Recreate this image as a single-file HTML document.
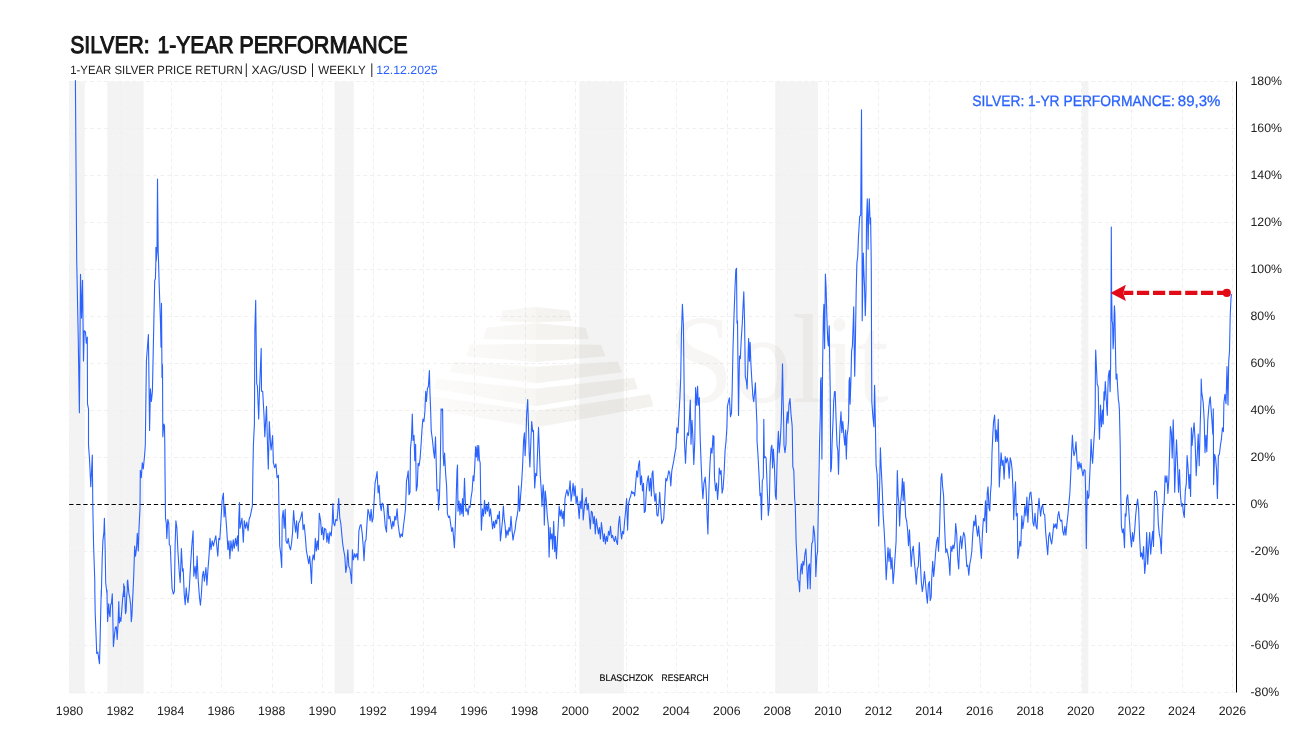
<!DOCTYPE html>
<html><head><meta charset="utf-8"><title>Silver: 1-Year Performance</title>
<style>html,body{margin:0;padding:0;background:#fff;width:1307px;height:734px;overflow:hidden;font-family:"Liberation Sans",sans-serif}</style>
</head><body>
<svg width="1307" height="734" viewBox="0 0 1307 734" text-rendering="geometricPrecision" style="display:block;position:absolute;left:0;top:0;font-family:'Liberation Sans',sans-serif">
<rect width="1307" height="734" fill="#fff"/>
<rect x="69.2" y="81.5" width="15.6" height="612.0" fill="#f3f3f3"/>
<rect x="107.2" y="81.5" width="36.4" height="612.0" fill="#f3f3f3"/>
<rect x="334.5" y="81.5" width="19.2" height="612.0" fill="#f3f3f3"/>
<rect x="579.3" y="81.5" width="44.5" height="612.0" fill="#f3f3f3"/>
<rect x="775.2" y="81.5" width="42.8" height="612.0" fill="#f3f3f3"/>
<rect x="1082.1" y="81.5" width="6.3" height="612.0" fill="#f3f3f3"/>
<g stroke="#f0f0f0" stroke-width="1" stroke-dasharray="4 3" fill="none">
<line x1="69.5" y1="81.5" x2="69.5" y2="692.5"/>
<line x1="120.5" y1="81.5" x2="120.5" y2="692.5"/>
<line x1="171.5" y1="81.5" x2="171.5" y2="692.5"/>
<line x1="221.5" y1="81.5" x2="221.5" y2="692.5"/>
<line x1="272.5" y1="81.5" x2="272.5" y2="692.5"/>
<line x1="322.5" y1="81.5" x2="322.5" y2="692.5"/>
<line x1="373.5" y1="81.5" x2="373.5" y2="692.5"/>
<line x1="423.5" y1="81.5" x2="423.5" y2="692.5"/>
<line x1="474.5" y1="81.5" x2="474.5" y2="692.5"/>
<line x1="525.5" y1="81.5" x2="525.5" y2="692.5"/>
<line x1="575.5" y1="81.5" x2="575.5" y2="692.5"/>
<line x1="626.5" y1="81.5" x2="626.5" y2="692.5"/>
<line x1="676.5" y1="81.5" x2="676.5" y2="692.5"/>
<line x1="727.5" y1="81.5" x2="727.5" y2="692.5"/>
<line x1="777.5" y1="81.5" x2="777.5" y2="692.5"/>
<line x1="828.5" y1="81.5" x2="828.5" y2="692.5"/>
<line x1="878.5" y1="81.5" x2="878.5" y2="692.5"/>
<line x1="929.5" y1="81.5" x2="929.5" y2="692.5"/>
<line x1="980.5" y1="81.5" x2="980.5" y2="692.5"/>
<line x1="1030.5" y1="81.5" x2="1030.5" y2="692.5"/>
<line x1="1081.5" y1="81.5" x2="1081.5" y2="692.5"/>
<line x1="1131.5" y1="81.5" x2="1131.5" y2="692.5"/>
<line x1="1182.5" y1="81.5" x2="1182.5" y2="692.5"/>
<line x1="1232.5" y1="81.5" x2="1232.5" y2="692.5"/>
<line x1="69.2" y1="692.5" x2="1236.5" y2="692.5"/>
<line x1="69.2" y1="645.5" x2="1236.5" y2="645.5"/>
<line x1="69.2" y1="598.5" x2="1236.5" y2="598.5"/>
<line x1="69.2" y1="551.5" x2="1236.5" y2="551.5"/>
<line x1="69.2" y1="457.5" x2="1236.5" y2="457.5"/>
<line x1="69.2" y1="410.5" x2="1236.5" y2="410.5"/>
<line x1="69.2" y1="363.5" x2="1236.5" y2="363.5"/>
<line x1="69.2" y1="316.5" x2="1236.5" y2="316.5"/>
<line x1="69.2" y1="269.5" x2="1236.5" y2="269.5"/>
<line x1="69.2" y1="222.5" x2="1236.5" y2="222.5"/>
<line x1="69.2" y1="175.5" x2="1236.5" y2="175.5"/>
<line x1="69.2" y1="128.5" x2="1236.5" y2="128.5"/>
<line x1="69.2" y1="81.5" x2="1236.5" y2="81.5"/>
</g>
<defs><linearGradient id="lf" gradientUnits="userSpaceOnUse" x1="425" y1="0" x2="536" y2="0"><stop offset="0" stop-color="rgb(135,125,85)" stop-opacity="0.028"/><stop offset="1" stop-color="rgb(135,125,85)" stop-opacity="0.068"/></linearGradient><linearGradient id="rf" gradientUnits="userSpaceOnUse" x1="536" y1="0" x2="655" y2="0"><stop offset="0" stop-color="rgb(135,125,85)" stop-opacity="0.09"/><stop offset="1" stop-color="rgb(135,125,85)" stop-opacity="0.105"/></linearGradient></defs>
<g stroke="none">
<polygon fill="url(#lf)" points="502.6,310.6 535.7,307.1 535.7,322.6 499.5,321.1"/>
<polygon fill="url(#rf)" points="535.7,307.1 568.9,310.6 572.0,321.1 535.7,322.6"/>
<polygon fill="url(#lf)" points="486.1,327.7 535.7,323.0 535.7,340.1 483.3,339.1"/>
<polygon fill="url(#rf)" points="535.7,323.0 585.4,327.7 589.1,339.1 535.7,340.1"/>
<polygon fill="url(#lf)" points="469.5,344.7 535.7,343.7 535.7,362.1 466.8,356.2"/>
<polygon fill="url(#rf)" points="535.7,343.7 601.0,344.7 605.6,356.2 535.7,362.1"/>
<polygon fill="url(#lf)" points="453.0,361.6 535.7,366.7 535.7,383.3 450.2,372.2"/>
<polygon fill="url(#rf)" points="535.7,366.7 617.6,361.6 622.2,372.2 535.7,383.3"/>
<polygon fill="url(#lf)" points="436.4,378.7 535.7,388.8 535.7,406.3 433.7,388.8"/>
<polygon fill="url(#rf)" points="535.7,388.8 634.1,377.8 637.8,388.8 535.7,406.3"/>
<polygon fill="url(#lf)" points="421.7,395.2 535.7,410.9 535.7,427.4 419.0,407.2"/>
<polygon fill="url(#rf)" points="535.7,410.9 649.8,394.3 653.4,406.3 535.7,427.4"/>
</g>
<text x="668.8" y="401.5" font-family="'Liberation Serif',serif" font-size="127" fill="rgba(135,125,85,0.065)" textLength="220" lengthAdjust="spacingAndGlyphs">Solit</text>
<line x1="69.2" y1="504.5" x2="1234.8" y2="504.5" stroke="#000" stroke-width="1.2" stroke-dasharray="4.3 2.75"/>
<path d="M75.4,80.6 L75.9,150.7 L76.7,260.1 L78.2,335.7 L79.4,412.8 L80.5,274.4 L81.5,318.1 L82.5,280.2 L83.5,361.0 L84.2,330.7 L85.5,332.0 L86.3,343.3 L87.3,337.0 L87.5,403.9 L88.5,409.0 L88.5,445.1 L89.5,458.9 L90.8,486.7 L92.3,455.1 L92.8,505.6 L93.6,546.0 L94.8,581.3 L94.8,590.0 L95.2,613.0 L96.1,635.9 L96.7,653.5 L97.8,652.0 L99.5,663.8 L100.1,640.5 L100.7,613.0 L101.3,590.0 L101.3,596.5 L102.2,558.6 L102.9,540.9 L103.9,532.1 L104.4,518.2 L105.2,551.0 L105.7,582.6 L107.0,594.0 L107.0,590.0 L107.1,599.2 L107.6,621.4 L108.7,603.8 L109.3,613.0 L110.0,616.8 L110.7,604.5 L111.4,603.8 L112.3,593.8 L112.8,616.0 L113.4,646.6 L114.5,634.4 L115.4,627.5 L116.3,626.7 L117.2,639.4 L118.0,625.2 L118.8,601.5 L119.4,622.9 L120.0,617.5 L120.9,621.4 L121.8,609.9 L122.7,597.7 L123.7,590.0 L123.7,583.9 L123.9,596.5 L124.6,586.4 L124.6,590.0 L124.9,596.9 L125.5,613.7 L126.1,611.4 L126.7,596.1 L127.3,590.0 L127.3,581.3 L127.7,580.1 L128.9,593.8 L129.8,597.7 L130.7,605.3 L131.3,621.7 L131.9,616.0 L132.5,602.2 L133.1,590.0 L133.7,576.3 L134.7,546.0 L135.5,556.1 L136.5,548.5 L137.3,533.4 L138.3,551.0 L139.0,528.3 L140.0,508.1 L140.3,470.2 L141.3,477.8 L142.3,462.7 L143.3,469.0 L144.6,455.1 L145.3,445.0 L146.4,361.0 L148.4,334.5 L149.6,430.4 L150.4,388.8 L151.4,401.4 L152.4,391.3 L153.4,343.3 L154.7,280.2 L155.4,278.9 L155.9,260.0 L155.9,247.2 L156.2,261.3 L157.0,251.7 L157.5,179.0 L158.2,251.7 L158.5,260.1 L159.2,285.2 L160.5,323.1 L161.0,347.1 L161.5,303.4 L162.0,377.4 L162.5,364.8 L162.8,436.7 L163.8,424.1 L164.5,425.4 L164.8,445.1 L165.0,470.2 L165.5,518.2 L166.3,523.3 L166.8,538.4 L167.8,519.5 L168.8,523.3 L169.3,544.7 L170.3,546.0 L171.3,571.2 L172.1,588.9 L173.4,594.0 L174.4,591.4 L175.1,546.0 L175.9,520.7 L176.9,528.3 L177.9,551.0 L179.2,571.2 L180.2,582.6 L181.4,548.5 L182.5,571.2 L183.2,568.7 L184.2,594.0 L185.2,604.6 L186.2,587.7 L187.0,596.5 L188.0,602.8 L189.3,588.9 L190.5,566.2 L191.8,546.0 L193.1,530.8 L193.8,576.3 L195.1,566.2 L196.1,578.8 L197.1,556.1 L198.1,578.8 L199.4,596.5 L200.4,605.3 L201.4,594.0 L202.4,576.3 L203.4,571.2 L204.4,581.3 L205.9,567.5 L206.9,585.1 L208.0,568.7 L209.0,556.1 L210.0,538.4 L211.0,549.8 L212.2,540.9 L213.5,546.0 L214.5,540.9 L215.8,535.9 L216.8,546.0 L217.8,556.1 L218.8,538.4 L219.8,539.7 L221.1,518.2 L222.1,500.5 L223.4,493.0 L224.1,517.0 L225.1,505.6 L225.9,518.2 L226.9,532.1 L227.9,549.8 L228.9,540.9 L229.9,558.6 L230.9,540.9 L232.2,551.0 L233.2,539.7 L234.2,548.5 L235.5,538.4 L236.5,546.0 L237.5,535.9 L238.3,551.0 L238.8,518.2 L239.5,502.6 L240.0,528.3 L241.0,523.3 L242.0,518.2 L243.3,542.2 L244.3,520.7 L245.6,528.3 L246.8,522.0 L248.1,530.8 L249.1,519.5 L250.4,515.7 L251.4,510.6 L252.4,505.6 L252.9,470.2 L253.4,445.0 L254.4,424.1 L254.9,329.4 L255.7,300.4 L256.7,383.7 L257.4,386.2 L258.7,419.1 L259.5,390.0 L261.2,348.4 L261.5,391.3 L262.7,391.3 L264.0,415.3 L264.8,436.7 L266.5,406.4 L267.5,445.1 L268.3,469.0 L269.3,421.6 L270.6,445.1 L271.1,450.0 L272.6,435.5 L273.4,462.7 L274.6,467.7 L275.9,463.9 L277.1,477.8 L278.4,475.3 L278.9,505.6 L279.7,546.0 L280.7,553.6 L281.7,567.5 L282.2,518.2 L283.2,510.6 L284.2,528.3 L285.2,509.4 L286.0,540.9 L287.2,543.5 L288.2,538.4 L289.3,546.0 L290.5,549.8 L291.5,543.5 L292.5,533.4 L293.6,510.6 L294.6,523.3 L295.6,532.1 L296.6,520.7 L297.6,538.4 L298.6,523.3 L299.9,520.7 L300.9,517.0 L302.1,511.9 L303.1,529.6 L304.2,524.5 L305.4,537.2 L306.4,551.0 L307.4,556.1 L308.7,563.7 L309.7,556.1 L310.5,566.2 L311.5,583.4 L312.2,561.1 L313.2,554.8 L314.3,559.9 L315.3,538.4 L316.3,551.0 L317.3,540.9 L318.3,549.8 L319.3,513.2 L320.6,520.7 L321.6,534.6 L322.6,527.1 L323.6,539.7 L324.6,528.3 L325.9,529.6 L326.9,542.2 L327.9,533.4 L328.9,543.5 L329.9,532.1 L331.2,535.9 L332.2,523.3 L332.9,503.6 L333.7,523.3 L334.7,525.8 L335.7,519.5 L337.0,520.7 L338.0,509.4 L338.7,498.5 L339.8,518.2 L340.8,523.3 L341.8,534.6 L342.8,544.7 L343.8,551.0 L344.8,556.1 L345.8,572.5 L346.8,566.2 L347.8,549.8 L348.8,566.2 L349.9,568.7 L350.9,576.3 L351.6,583.4 L352.4,549.8 L353.4,559.9 L354.7,553.6 L355.7,557.4 L356.9,553.6 L357.9,559.9 L358.9,530.8 L360.0,525.8 L361.0,524.5 L362.2,533.4 L363.2,546.0 L364.0,560.6 L365.0,542.2 L366.0,539.7 L367.0,523.3 L368.0,509.4 L369.0,513.2 L370.1,520.7 L371.1,509.4 L372.1,522.0 L373.1,518.2 L374.1,500.5 L375.1,482.9 L376.1,477.8 L377.1,471.5 L378.1,493.0 L379.1,485.4 L380.2,504.3 L381.2,510.6 L382.2,503.1 L383.2,504.3 L384.2,513.2 L385.2,525.8 L386.5,532.1 L387.5,505.6 L388.0,504.9 L388.8,518.8 L389.8,516.2 L390.8,522.6 L391.8,528.9 L392.8,521.3 L393.8,526.3 L394.8,516.2 L395.9,520.0 L397.1,508.7 L398.1,523.8 L399.1,531.4 L400.1,537.7 L401.2,533.9 L402.4,536.4 L403.4,526.3 L404.4,518.8 L405.5,508.7 L406.5,480.9 L407.5,475.8 L408.2,470.8 L409.0,494.8 L410.0,492.3 L410.5,448.1 L411.5,438.0 L412.3,414.0 L413.0,440.5 L414.0,435.4 L414.8,460.7 L415.6,444.3 L416.3,491.0 L417.3,485.9 L418.1,463.2 L419.1,465.7 L420.1,458.2 L421.1,444.3 L422.1,427.9 L422.9,419.0 L423.9,421.6 L424.9,411.5 L425.7,391.3 L426.4,401.4 L427.4,388.8 L428.4,386.2 L429.4,370.6 L429.9,391.3 L430.7,411.5 L431.2,430.4 L432.5,440.5 L433.5,450.6 L434.5,458.2 L435.5,436.7 L436.3,465.7 L437.0,491.0 L438.0,489.7 L438.5,509.9 L439.5,496.0 L440.3,465.7 L441.1,408.9 L441.8,410.2 L442.6,408.9 L443.1,453.1 L443.8,465.7 L444.6,453.1 L445.6,473.3 L446.6,485.9 L447.4,513.7 L448.6,517.5 L449.6,516.2 L450.6,523.8 L451.7,531.4 L452.7,527.6 L453.7,539.0 L454.4,547.8 L455.4,523.8 L456.2,498.6 L457.0,470.8 L457.5,465.0 L458.0,511.2 L459.0,501.1 L460.0,515.0 L460.7,503.6 L461.8,513.7 L462.5,498.6 L463.3,516.2 L464.0,493.5 L464.5,478.4 L465.3,501.1 L466.0,511.2 L467.1,508.7 L468.1,515.0 L469.1,506.1 L470.1,507.4 L471.1,497.3 L472.1,491.0 L473.1,475.8 L473.9,480.9 L474.9,463.2 L475.6,446.8 L476.4,456.9 L477.2,445.5 L477.9,460.7 L478.7,445.5 L479.4,459.4 L480.2,463.2 L480.7,498.6 L481.4,530.1 L482.5,508.7 L483.5,516.2 L484.5,500.3 L485.5,513.7 L486.5,504.9 L487.5,511.2 L488.5,502.4 L489.5,516.2 L490.5,508.7 L491.5,518.8 L492.6,528.9 L493.6,521.3 L494.6,527.6 L495.6,520.0 L496.6,523.8 L497.6,515.0 L498.6,518.8 L499.4,511.2 L500.4,541.0 L501.4,531.4 L502.4,521.3 L503.4,506.1 L504.2,518.8 L505.2,526.3 L505.9,537.7 L507.0,530.1 L508.0,535.2 L509.0,527.6 L510.0,531.4 L511.0,516.2 L512.0,530.1 L513.0,540.2 L514.0,533.9 L515.0,530.1 L516.0,521.3 L517.1,516.2 L518.1,508.7 L518.6,485.9 L519.6,511.2 L520.6,496.0 L521.6,483.4 L522.6,465.7 L523.6,440.5 L524.4,432.9 L525.1,455.6 L525.9,440.5 L526.6,415.2 L527.7,399.6 L528.4,422.8 L529.2,453.1 L529.9,467.0 L530.9,440.5 L531.7,421.6 L532.7,431.7 L533.5,430.4 L534.0,463.2 L534.7,488.0 L535.7,473.3 L536.7,475.8 L537.8,445.5 L538.5,427.4 L539.3,448.1 L540.3,475.8 L541.3,491.0 L542.0,506.1 L543.1,484.7 L543.8,493.5 L544.3,525.1 L545.3,491.0 L546.3,501.1 L547.3,516.2 L548.4,526.3 L549.1,557.1 L550.1,527.6 L550.9,539.0 L551.9,533.9 L552.7,549.1 L553.7,521.3 L554.7,551.6 L555.4,536.4 L556.4,558.7 L557.4,541.5 L558.2,526.3 L559.2,506.1 L560.2,516.2 L561.2,509.9 L562.2,518.8 L563.3,511.2 L564.0,526.3 L565.0,498.6 L566.0,493.5 L567.0,489.7 L568.1,496.0 L569.1,491.0 L570.1,480.9 L571.1,501.1 L572.1,493.5 L573.1,483.4 L574.1,496.0 L575.1,485.9 L576.1,503.6 L577.1,496.0 L578.2,506.1 L579.2,518.8 L580.2,501.1 L581.2,508.7 L582.2,488.5 L583.2,520.0 L584.2,508.7 L585.2,501.1 L586.2,497.3 L587.2,509.9 L588.3,503.6 L589.3,516.2 L590.3,528.9 L591.3,511.2 L592.3,512.5 L593.3,523.8 L594.3,516.2 L595.3,533.9 L596.3,518.8 L597.3,526.3 L598.4,533.9 L599.4,527.6 L600.4,539.0 L601.4,522.6 L602.4,531.4 L603.4,541.5 L604.4,533.9 L605.4,544.0 L606.4,536.4 L607.4,541.5 L608.5,531.4 L609.5,535.2 L610.5,526.3 L611.5,537.7 L612.5,535.2 L613.5,539.0 L614.5,541.5 L615.5,536.4 L616.5,541.5 L617.5,544.5 L618.6,523.8 L619.6,516.2 L620.6,530.1 L621.6,539.0 L622.6,531.4 L623.6,533.9 L624.6,521.3 L625.6,511.2 L626.6,498.6 L627.6,530.1 L628.6,503.6 L629.7,498.6 L630.7,496.0 L631.7,491.0 L632.7,493.5 L633.7,492.3 L634.7,496.0 L635.7,483.4 L636.7,470.8 L637.7,477.1 L638.5,465.7 L639.5,460.7 L640.5,484.7 L641.5,475.8 L642.5,491.0 L643.5,483.4 L644.3,512.5 L645.3,511.2 L646.3,491.0 L647.3,480.9 L648.3,475.8 L649.4,491.0 L650.4,478.4 L651.4,496.0 L652.1,473.3 L652.9,470.8 L653.9,491.0 L654.9,501.1 L655.9,493.5 L656.9,515.0 L657.9,516.2 L658.9,506.1 L659.7,492.3 L660.7,508.7 L661.7,523.8 L662.7,521.3 L663.7,518.8 L664.8,498.6 L665.8,478.4 L666.8,480.9 L667.8,475.8 L668.8,470.8 L669.8,473.3 L670.8,485.9 L671.8,470.8 L672.8,465.7 L673.8,460.7 L674.9,453.1 L675.9,448.1 L676.9,427.9 L677.9,432.9 L678.9,415.2 L679.9,397.6 L680.7,378.7 L681.4,335.7 L682.4,304.2 L683.4,325.6 L683.9,366.0 L684.4,411.5 L684.4,440.5 L685.5,463.2 L686.5,440.5 L687.5,432.9 L688.5,435.4 L689.5,417.8 L690.3,400.1 L691.0,444.3 L692.0,420.3 L692.8,435.4 L693.8,464.5 L694.8,440.5 L695.6,387.5 L696.6,405.2 L697.6,386.2 L698.3,405.2 L699.3,397.6 L700.1,435.4 L701.1,463.2 L702.1,485.9 L702.9,498.6 L703.9,483.4 L705.2,477.1 L706.2,491.0 L706.9,511.2 L707.9,533.9 L708.9,491.0 L710.0,463.2 L711.0,448.1 L712.0,453.1 L713.0,435.4 L714.0,450.6 L714.0,447.8 L714.0,436.4 L714.0,450.3 L714.5,478.1 L715.6,490.7 L716.6,483.1 L717.6,499.5 L718.6,484.4 L719.3,468.0 L720.4,474.3 L721.1,470.5 L722.1,493.2 L723.1,488.2 L724.1,473.0 L725.1,450.3 L725.9,442.7 L726.9,427.6 L727.4,406.6 L728.4,401.6 L729.4,397.8 L730.5,416.7 L731.5,413.0 L732.2,389.0 L733.0,348.6 L734.0,315.7 L735.0,288.0 L735.8,270.3 L736.5,268.3 L737.0,323.3 L737.5,320.8 L738.5,415.5 L739.5,356.1 L740.3,358.7 L741.3,338.5 L742.3,323.3 L743.1,305.6 L743.8,291.8 L744.6,323.3 L745.3,376.3 L746.4,381.4 L747.1,389.0 L747.9,363.7 L748.6,338.5 L749.4,361.2 L750.1,342.3 L750.9,363.7 L751.9,381.4 L752.9,396.5 L753.7,401.6 L754.7,391.5 L755.4,382.7 L756.2,406.6 L757.0,425.1 L757.0,440.2 L758.0,455.3 L759.0,474.3 L760.0,495.7 L760.7,493.2 L761.5,519.7 L762.3,480.6 L763.3,478.1 L763.8,419.3 L764.3,457.9 L765.0,456.6 L766.1,457.9 L767.1,485.6 L768.3,515.4 L769.3,505.8 L770.1,465.4 L771.1,447.8 L771.9,445.2 L772.6,468.0 L773.4,449.0 L774.4,465.4 L775.4,495.7 L776.2,499.5 L776.9,468.0 L777.7,445.2 L778.4,431.4 L779.2,452.8 L780.2,441.5 L781.2,422.5 L781.7,404.1 L782.5,363.7 L783.2,401.6 L783.7,425.1 L784.0,445.2 L785.0,452.8 L786.0,444.0 L786.5,421.8 L787.3,411.7 L788.0,423.1 L789.0,404.1 L790.0,398.6 L791.0,414.2 L792.1,425.1 L792.3,430.1 L792.8,466.7 L793.8,470.5 L794.6,498.3 L795.3,505.8 L796.1,541.2 L797.1,561.4 L797.9,580.3 L798.9,581.6 L799.6,591.7 L800.4,571.5 L801.4,563.9 L802.2,574.0 L802.9,561.4 L803.9,565.2 L804.9,553.8 L805.9,548.8 L807.0,571.5 L807.7,588.7 L808.5,566.4 L809.5,563.9 L810.2,588.7 L811.0,561.4 L811.8,543.7 L812.8,541.2 L813.5,526.0 L814.5,533.6 L815.3,546.2 L815.8,576.5 L816.8,556.3 L817.6,551.3 L818.1,521.0 L818.8,485.6 L819.6,440.2 L820.3,414.2 L820.6,381.4 L821.1,377.6 L821.6,416.7 L821.9,459.1 L822.6,366.2 L823.4,315.7 L823.9,304.4 L824.6,348.6 L825.4,274.1 L826.1,288.0 L826.9,318.3 L827.7,339.7 L828.4,346.0 L829.2,325.8 L829.7,361.2 L830.2,389.0 L830.4,416.7 L830.7,471.8 L831.4,468.0 L832.2,440.2 L833.2,416.7 L833.7,401.6 L834.5,391.5 L835.2,391.5 L836.0,416.7 L837.0,445.2 L837.8,450.3 L838.5,474.3 L839.3,445.2 L840.0,427.6 L841.0,411.7 L841.8,432.6 L842.8,421.3 L843.8,435.1 L844.8,445.2 L845.6,430.1 L846.3,459.1 L847.1,435.1 L847.9,430.1 L848.6,420.0 L849.1,381.4 L849.6,377.6 L850.1,404.1 L850.9,381.4 L851.6,351.1 L852.4,346.0 L853.2,323.3 L853.7,306.9 L854.2,346.0 L854.7,376.3 L855.4,341.0 L856.2,290.5 L856.9,262.7 L857.7,256.8 L858.5,236.6 L859.7,216.4 L860.7,215.1 L861.5,109.8 L862.0,226.5 L862.2,320.8 L863.3,253.0 L863.8,270.3 L864.5,285.4 L865.3,315.7 L866.0,290.5 L866.5,221.4 L867.3,198.7 L868.1,249.2 L868.6,216.4 L869.3,198.7 L870.1,224.0 L870.6,217.7 L871.1,251.7 L871.3,270.3 L871.6,366.2 L871.8,401.6 L872.9,416.7 L873.9,426.8 L874.6,385.2 L875.4,425.1 L876.1,465.4 L877.1,474.3 L877.9,495.7 L878.7,526.0 L879.7,483.1 L880.4,447.8 L881.2,468.0 L882.2,488.2 L883.2,515.9 L884.2,531.1 L885.2,551.3 L886.2,579.6 L887.2,561.4 L888.0,547.5 L889.0,561.4 L890.0,548.8 L891.0,569.0 L892.0,557.6 L893.1,583.6 L894.1,571.5 L895.1,556.3 L896.1,541.2 L896.8,503.3 L897.3,470.5 L898.1,495.7 L898.9,503.3 L899.6,526.0 L900.6,503.3 L901.6,493.2 L902.4,478.6 L903.2,500.8 L903.9,481.9 L904.9,500.8 L905.7,517.2 L906.7,521.0 L907.7,531.1 L908.5,545.7 L909.5,529.8 L910.2,546.2 L911.2,566.4 L912.2,551.3 L913.3,546.2 L914.3,561.4 L915.3,571.5 L916.3,584.1 L917.3,569.0 L918.3,566.4 L919.3,542.5 L920.3,561.4 L921.3,581.6 L922.3,591.7 L923.4,584.1 L924.4,571.5 L925.4,581.6 L926.4,594.2 L927.4,603.1 L928.4,584.1 L929.4,581.6 L930.2,600.5 L931.2,596.7 L931.7,579.1 L932.7,561.4 L933.7,576.5 L934.7,565.2 L935.7,551.3 L936.7,541.2 L937.7,537.4 L938.5,551.3 L939.5,531.1 L940.3,503.3 L941.0,478.1 L941.8,473.5 L942.5,485.6 L943.6,495.7 L944.3,518.5 L945.1,538.7 L945.8,552.6 L946.8,548.8 L947.8,553.8 L948.9,560.1 L949.9,575.3 L950.9,546.2 L951.9,551.3 L952.9,545.0 L953.9,548.8 L954.9,541.2 L955.7,523.5 L956.7,533.6 L957.7,557.6 L958.7,569.0 L959.7,543.7 L960.7,536.1 L961.7,548.8 L962.7,538.7 L963.7,532.4 L964.8,536.1 L965.8,551.3 L966.8,566.4 L967.8,565.2 L968.8,575.3 L969.8,563.9 L970.8,558.9 L971.8,551.3 L972.8,533.6 L973.8,521.0 L974.9,526.0 L975.6,515.4 L976.6,528.6 L977.6,536.1 L978.6,526.0 L979.7,538.7 L980.7,551.3 L981.4,558.4 L982.4,533.6 L983.4,518.5 L984.5,521.0 L985.5,500.8 L986.5,532.4 L987.2,493.2 L988.0,486.9 L989.0,508.4 L989.8,510.9 L990.5,493.2 L991.3,483.1 L992.0,452.8 L992.8,435.1 L993.5,422.5 L994.6,415.0 L995.6,441.5 L996.3,430.1 L997.3,441.5 L998.3,419.3 L999.3,486.9 L1000.4,465.4 L1001.1,452.8 L1002.1,465.4 L1003.1,460.4 L1004.1,479.3 L1005.2,456.6 L1006.2,462.9 L1007.2,457.9 L1008.2,462.9 L1009.2,478.1 L1010.2,457.9 L1011.2,461.7 L1012.2,470.5 L1013.2,495.7 L1013.7,519.7 L1014.8,493.2 L1015.5,481.9 L1016.3,515.9 L1017.3,513.4 L1017.8,558.4 L1018.8,551.3 L1019.8,541.2 L1020.8,546.2 L1021.8,515.9 L1022.8,528.6 L1023.8,521.0 L1024.9,505.8 L1025.9,515.9 L1026.9,497.0 L1027.9,522.3 L1028.9,503.3 L1029.9,493.2 L1030.9,492.0 L1031.9,503.3 L1032.9,522.3 L1033.9,526.0 L1035.0,513.4 L1036.0,526.0 L1037.0,529.1 L1038.0,510.9 L1039.0,498.3 L1039.6,506.1 L1040.6,516.2 L1041.6,507.4 L1042.6,504.8 L1043.7,513.7 L1044.7,514.9 L1045.7,532.6 L1046.7,544.0 L1047.7,554.6 L1048.7,536.4 L1049.7,532.6 L1050.7,540.2 L1051.7,544.0 L1052.7,535.1 L1053.8,523.8 L1054.8,527.6 L1055.8,523.8 L1056.8,528.8 L1057.8,516.2 L1058.8,511.6 L1059.8,518.7 L1060.8,521.2 L1061.8,520.0 L1062.8,531.3 L1063.9,535.1 L1064.9,526.3 L1065.9,535.1 L1066.9,523.8 L1067.9,514.9 L1068.9,503.6 L1069.9,492.2 L1070.9,470.7 L1071.9,445.5 L1072.4,435.4 L1073.2,449.3 L1074.0,455.6 L1075.0,451.8 L1076.0,441.7 L1077.0,460.6 L1078.0,469.5 L1079.0,461.9 L1080.0,468.2 L1081.0,463.2 L1082.0,470.7 L1083.0,475.8 L1084.1,469.5 L1085.1,470.7 L1085.6,490.9 L1086.3,548.5 L1086.8,511.1 L1087.3,490.9 L1088.1,498.5 L1088.9,496.0 L1089.6,478.3 L1090.4,460.6 L1091.1,439.2 L1091.9,455.6 L1092.6,463.2 L1093.6,445.5 L1094.7,427.8 L1095.2,407.6 L1095.4,366.5 L1095.7,350.1 L1096.4,366.5 L1097.2,384.2 L1098.2,386.7 L1098.7,413.9 L1099.5,439.2 L1100.5,405.1 L1101.5,426.6 L1102.5,410.1 L1103.2,424.0 L1104.0,391.7 L1104.5,400.0 L1105.3,381.6 L1106.3,400.1 L1107.3,415.2 L1107.8,391.7 L1108.3,376.6 L1109.3,370.3 L1110.1,391.7 L1110.6,366.5 L1111.1,290.7 L1111.3,227.1 L1111.6,290.7 L1112.1,321.0 L1112.6,323.6 L1113.1,348.8 L1113.6,341.2 L1114.1,316.0 L1114.4,305.9 L1114.9,313.5 L1115.4,346.3 L1116.1,379.1 L1116.9,374.1 L1117.6,386.7 L1118.4,400.1 L1118.9,402.6 L1119.4,410.1 L1120.2,445.5 L1120.7,490.9 L1121.4,526.3 L1122.4,532.6 L1123.4,528.8 L1124.5,547.8 L1125.2,513.7 L1126.0,516.2 L1126.7,498.5 L1127.7,494.7 L1128.5,506.1 L1129.5,521.2 L1130.5,536.4 L1131.5,547.0 L1132.5,532.6 L1133.5,541.4 L1134.6,531.3 L1135.6,516.2 L1136.6,506.1 L1137.6,499.0 L1138.6,508.6 L1139.6,536.4 L1140.6,556.6 L1141.6,552.8 L1142.6,559.1 L1143.6,546.5 L1144.7,573.5 L1145.7,561.6 L1146.7,532.6 L1147.7,564.2 L1148.7,546.5 L1149.7,532.6 L1150.7,554.1 L1151.7,541.4 L1152.7,531.3 L1153.5,546.5 L1154.5,492.2 L1155.5,490.9 L1156.5,492.2 L1157.5,503.6 L1158.3,523.8 L1159.3,533.9 L1160.3,538.9 L1161.3,553.6 L1162.1,526.3 L1163.1,506.1 L1164.1,503.6 L1165.1,475.8 L1166.1,482.1 L1166.9,475.8 L1167.9,493.5 L1168.9,478.3 L1169.6,453.1 L1170.4,426.6 L1171.4,432.9 L1172.2,458.1 L1173.2,419.7 L1173.9,445.5 L1174.7,492.2 L1175.7,460.6 L1176.5,439.9 L1177.5,463.2 L1178.5,492.2 L1179.5,469.5 L1180.5,496.0 L1181.5,506.1 L1182.5,503.6 L1183.5,513.7 L1184.3,517.5 L1185.3,490.9 L1186.3,483.4 L1187.1,455.6 L1188.1,468.2 L1189.1,488.4 L1189.8,474.5 L1190.6,496.5 L1191.4,427.8 L1192.1,445.5 L1193.1,432.9 L1194.1,422.8 L1195.1,440.4 L1196.2,475.8 L1197.2,455.6 L1198.2,434.1 L1199.2,465.7 L1200.2,425.3 L1201.0,398.8 L1201.2,379.1 L1201.7,391.7 L1203.2,402.6 L1204.2,420.2 L1205.0,452.6 L1206.0,435.4 L1206.8,451.8 L1207.8,420.2 L1208.8,407.6 L1209.8,398.8 L1210.3,396.8 L1210.8,405.1 L1211.8,419.0 L1212.8,434.1 L1213.3,408.9 L1213.6,484.6 L1214.6,454.3 L1215.6,458.1 L1216.6,470.7 L1217.4,498.5 L1218.4,455.6 L1219.4,454.3 L1220.4,445.5 L1221.4,439.2 L1222.4,427.8 L1223.4,431.6 L1223.9,402.6 L1224.9,394.3 L1226.0,403.8 L1227.0,366.5 L1228.0,405.1 L1228.7,361.4 L1229.5,351.3 L1230.2,316.0 L1231.0,298.3 L1231.5,294.5" fill="none" stroke="#2962ff" stroke-width="1.1" stroke-linejoin="round" stroke-linecap="round"/>
<line x1="1236.5" y1="81.5" x2="1236.5" y2="692.5" stroke="#000" stroke-width="1"/>
<g style="will-change:opacity;opacity:0.999;isolation:isolate">
<g font-size="12.3" fill="#222">
<text x="1250.5" y="695.9">-80%</text>
<text x="1250.5" y="648.9">-60%</text>
<text x="1250.5" y="601.9">-40%</text>
<text x="1250.5" y="554.9">-20%</text>
<text x="1250.5" y="507.9">0%</text>
<text x="1250.5" y="460.9">20%</text>
<text x="1250.5" y="413.9">40%</text>
<text x="1250.5" y="366.9">60%</text>
<text x="1250.5" y="319.9">80%</text>
<text x="1250.5" y="272.9">100%</text>
<text x="1250.5" y="225.9">120%</text>
<text x="1250.5" y="178.9">140%</text>
<text x="1250.5" y="131.9">160%</text>
<text x="1250.5" y="84.9">180%</text>
</g>
<g font-size="12.3" fill="#222" text-anchor="middle">
<text x="69.5" y="715.1">1980</text>
<text x="120.1" y="715.1">1982</text>
<text x="170.6" y="715.1">1984</text>
<text x="221.2" y="715.1">1986</text>
<text x="271.7" y="715.1">1988</text>
<text x="322.3" y="715.1">1990</text>
<text x="372.9" y="715.1">1992</text>
<text x="423.4" y="715.1">1994</text>
<text x="474.0" y="715.1">1996</text>
<text x="524.5" y="715.1">1998</text>
<text x="575.1" y="715.1">2000</text>
<text x="625.7" y="715.1">2002</text>
<text x="676.2" y="715.1">2004</text>
<text x="726.8" y="715.1">2006</text>
<text x="777.3" y="715.1">2008</text>
<text x="827.9" y="715.1">2010</text>
<text x="878.5" y="715.1">2012</text>
<text x="929.0" y="715.1">2014</text>
<text x="979.6" y="715.1">2016</text>
<text x="1030.1" y="715.1">2018</text>
<text x="1080.7" y="715.1">2020</text>
<text x="1131.3" y="715.1">2022</text>
<text x="1181.8" y="715.1">2024</text>
<text x="1232.4" y="715.1">2026</text>
</g>
<text x="972.3" y="106" font-size="15" fill="#2962ff" stroke="#2962ff" stroke-width="0.3" lengthAdjust="spacingAndGlyphs" textLength="202.5">SILVER: 1-YR PERFORMANCE:</text>
<text x="1177.8" y="106" font-size="15" fill="#2962ff" stroke="#2962ff" stroke-width="0.3" lengthAdjust="spacingAndGlyphs" textLength="42.6">89,3%</text>
<line x1="1123.5" y1="292.95" x2="1226" y2="292.95" stroke="#e20a16" stroke-width="4.3" stroke-dasharray="9.8 3.65 12.2 3.85 12.2 3.9 12.2 3.9 12.2 3.6 12.2 3.9 12.2 20"/>
<circle cx="1226.8" cy="292.95" r="4.1" fill="#e20a16"/>
<polygon points="1110.4,292.95 1125.9,284.8 1123.2,292.95 1125.9,301.1" fill="#e20a16"/>
<text x="599.5" y="681.2" font-size="9.6" fill="#000" stroke="#000" stroke-width="0.15" textLength="54" lengthAdjust="spacingAndGlyphs">BLASCHZOK</text>
<text x="661.5" y="681.2" font-size="9.6" fill="#000" stroke="#000" stroke-width="0.15" textLength="47.2" lengthAdjust="spacingAndGlyphs">RESEARCH</text>
<text x="70.2" y="52.9" font-size="24" fill="#151515" stroke="#151515" stroke-width="1.0" lengthAdjust="spacingAndGlyphs" textLength="79.5">SILVER:</text>
<text x="157.6" y="52.9" font-size="24" fill="#151515" stroke="#151515" stroke-width="1.0" lengthAdjust="spacingAndGlyphs" textLength="76">1-YEAR</text>
<text x="239.2" y="52.9" font-size="24" fill="#151515" stroke="#151515" stroke-width="1.0" lengthAdjust="spacingAndGlyphs" textLength="168.6">PERFORMANCE</text>
<text x="70.2" y="73.6" font-size="12" fill="#222" lengthAdjust="spacingAndGlyphs" textLength="172.5">1-YEAR SILVER PRICE RETURN</text>
<text x="251.6" y="73.6" font-size="12" fill="#222" lengthAdjust="spacingAndGlyphs" textLength="55.2">XAG/USD</text>
<text x="318.2" y="73.6" font-size="12" fill="#222" lengthAdjust="spacingAndGlyphs" textLength="47.6">WEEKLY</text>
<text x="376.2" y="73.6" font-size="12" fill="#2962ff" lengthAdjust="spacingAndGlyphs" textLength="61.5">12.12.2025</text>
<g stroke="#222" stroke-width="1"><line x1="246.3" y1="63.4" x2="246.3" y2="77"/><line x1="312.5" y1="63.4" x2="312.5" y2="77"/><line x1="371.8" y1="63.4" x2="371.8" y2="77"/></g>
</g>
</svg>
</body></html>
